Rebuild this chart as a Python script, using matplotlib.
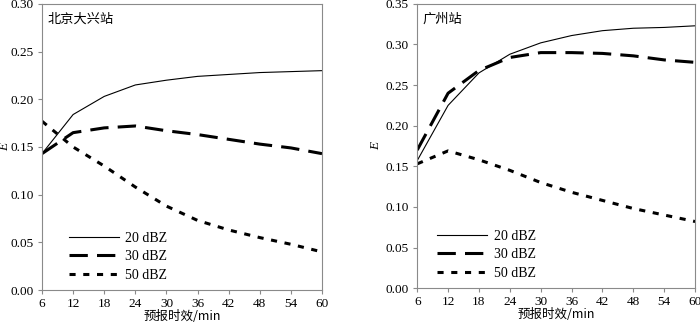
import matplotlib
matplotlib.use("Agg")
import matplotlib.pyplot as plt
import numpy as np

plt.rcParams['font.family'] = ['Liberation Serif', 'Noto Sans CJK SC']

lead_time = [6, 12, 18, 24, 30, 36, 42, 48, 54, 60]
series_names = ['20 dBZ', '30 dBZ', '50 dBZ']

bj_20 = [0.143, 0.184, 0.203, 0.215, 0.220, 0.224, 0.226, 0.228, 0.229, 0.230]
bj_30 = [0.143, 0.165, 0.170, 0.172, 0.167, 0.163, 0.158, 0.153, 0.149, 0.143]
bj_50 = [0.177, 0.150, 0.130, 0.108, 0.088, 0.073, 0.063, 0.055, 0.048, 0.040]

gz_20 = [0.157, 0.225, 0.265, 0.288, 0.302, 0.311, 0.317, 0.320, 0.321, 0.323]
gz_30 = [0.170, 0.240, 0.268, 0.284, 0.290, 0.290, 0.289, 0.286, 0.281, 0.278]
gz_50 = [0.153, 0.169, 0.158, 0.145, 0.130, 0.118, 0.108, 0.098, 0.090, 0.082]

fig = plt.figure(figsize=(7, 3.23), dpi=100)
ax1 = fig.add_axes([0.06, 0.102, 0.40, 0.886])
ax2 = fig.add_axes([0.596, 0.108, 0.397, 0.88])

styles = [
    dict(color='black', lw=0.8, ls='-'),
    dict(color='black', lw=2.2, ls=(0, (6, 3))),
    dict(color='black', lw=2.2, ls=(0, (2, 2.5))),
]


def draw_panel(ax, data, ymax, title, leg_x, ylab_x):
    for vals, name, st in zip(data, series_names, styles):
        ax.plot(lead_time, vals, label=name, **st)
    ax.set_xlim(6, 60)
    ax.set_ylim(0, ymax)
    ax.set_xticks(lead_time)
    ax.set_yticks(np.arange(0, ymax + 0.001, 0.05))
    ax.yaxis.set_major_formatter(matplotlib.ticker.FormatStrFormatter('%.2f'))
    for s in ax.spines.values():
        s.set_color('#8a8a8a')
        s.set_linewidth(0.8)
    ax.tick_params(direction='out', length=3, width=0.8, color='#8a8a8a',
                   labelsize=9.5, pad=3)
    ax.set_xlabel('预报时效/min', fontsize=9, labelpad=0,
                  family=['Noto Sans CJK SC', 'Liberation Serif'])
    ax.set_ylabel('E', fontsize=9.5, style='italic')
    ax.yaxis.set_label_coords(ylab_x, 0.5)
    ax.text(0.02, 0.97, title, transform=ax.transAxes, fontsize=9.5,
            va='top', ha='left', family=['Noto Sans CJK SC'])
    ax.legend(loc='lower left', bbox_to_anchor=(leg_x, -0.015), frameon=False,
              handlelength=3.6, fontsize=10, labelspacing=0.4, handletextpad=0.5)


draw_panel(ax1, [bj_20, bj_30, bj_50], 0.30, '北京大兴站', 0.05, -0.11)
draw_panel(ax2, [gz_20, gz_30, gz_50], 0.35, '广州站', 0.025, -0.125)

fig.savefig('out.png', dpi=100)
